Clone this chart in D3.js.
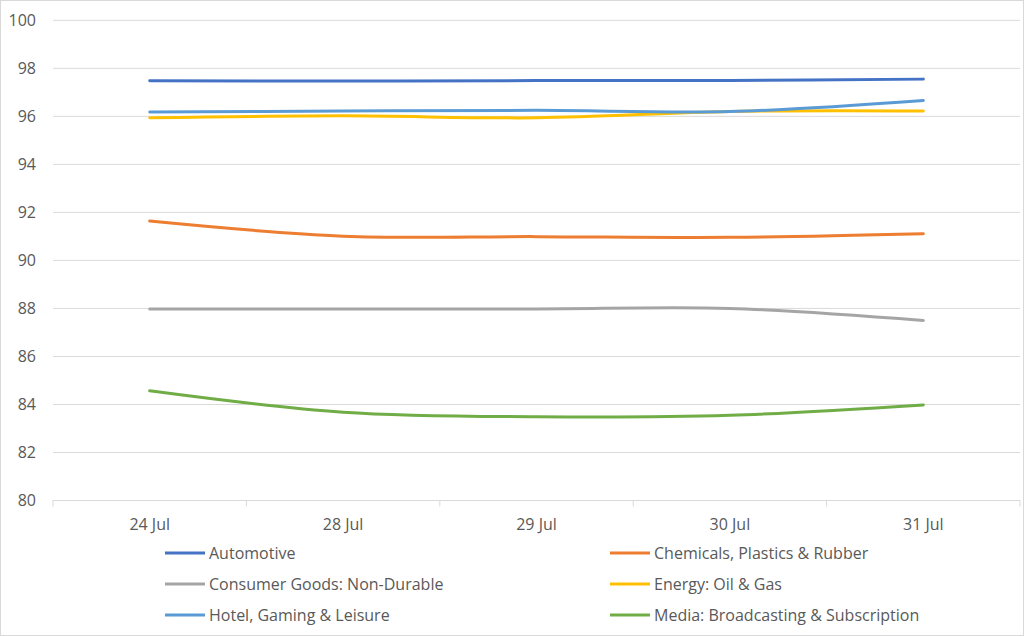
<!DOCTYPE html>
<html><head><meta charset="utf-8">
<script src="https://cdn.jsdelivr.net/npm/d3@7"></script>
<style>body{margin:0;background:#fff}svg{display:block}text{font-family:"Open Sans","Liberation Sans",sans-serif;fill:#595959}</style>
</head><body><svg id="c" width="1024" height="636"></svg>
<script>
const categories = ["24 Jul","28 Jul","29 Jul","30 Jul","31 Jul"];
const seriesNames = ["Automotive","Chemicals, Plastics & Rubber","Consumer Goods: Non-Durable","Energy: Oil & Gas","Hotel, Gaming & Leisure","Media: Broadcasting & Subscription"];
const automotive = [97.48,97.47,97.49,97.49,97.55];
const chemicals = [91.64,91.01,90.99,90.96,91.11];
const consumer = [87.98,87.98,87.98,88.0,87.5];
const energy = [95.94,96.02,95.94,96.2,96.22];
const hotel = [96.18,96.22,96.25,96.2,96.66];
const media = [84.57,83.68,83.49,83.55,83.98];
const yTicks = [80,82,84,86,88,90,92,94,96,98,100];
const colors = ["#4472C4","#ED7D31","#A5A5A5","#FFC000","#5B9BD5","#70AD47"];
const values = [automotive,chemicals,consumer,energy,hotel,media];

const svg = d3.select("#c");
svg.append("rect").attr("x",0.5).attr("y",0.5).attr("width",1023).attr("height",635).attr("fill","#fff").attr("stroke","#d9d9d9");
const L=53,R=1020,T=20.3,B=500.5;
const x = d3.scaleBand().domain(categories).range([L,R]);
const y = d3.scaleLinear().domain([80,100]).range([B,T]);
const FS = 16;

svg.append("g").selectAll("line").data(yTicks).join("line")
  .attr("x1",L).attr("x2",R).attr("y1",d=>y(d)).attr("y2",d=>y(d))
  .attr("stroke","#d9d9d9").attr("stroke-width",1);
svg.append("g").selectAll("text").data(yTicks).join("text")
  .attr("x",36).attr("y",d=>y(d)).attr("dy","0.35em").attr("text-anchor","end")
  .attr("font-size",FS).text(d=>d);
const xa = svg.append("g").attr("transform",`translate(0,${B})`);
xa.append("line").attr("x1",L).attr("x2",R).attr("stroke","#d9d9d9");
const bounds = categories.map(c=>x(c)).concat([R]);
xa.selectAll("line.t").data(bounds).join("line").attr("class","t")
  .attr("x1",d=>d).attr("x2",d=>d).attr("y1",0).attr("y2",6).attr("stroke","#d9d9d9");
xa.selectAll("text").data(categories).join("text")
  .attr("x",d=>x(d)+x.bandwidth()/2).attr("y",24).attr("dy","0.35em")
  .attr("text-anchor","middle").attr("font-size",FS).text(d=>d);

const line = d3.line().x((d,i)=>x(categories[i])+x.bandwidth()/2).y(d=>y(d)).curve(d3.curveCatmullRom.alpha(0.5));
svg.append("g").selectAll("path").data(values).join("path")
  .attr("d",d=>line(d)).attr("fill","none").attr("stroke",(d,i)=>colors[i])
  .attr("stroke-width",3).attr("stroke-linecap","round");

const lg = svg.append("g");
seriesNames.forEach((n,i)=>{
  const col=i%2, row=Math.floor(i/2);
  const lx = col===0?165:610, ly = 553+row*31;
  lg.append("line").attr("x1",lx).attr("x2",lx+40).attr("y1",ly).attr("y2",ly).attr("stroke",colors[i]).attr("stroke-width",3);
  lg.append("text").attr("x",lx+44).attr("y",ly).attr("dy","0.35em").attr("font-size",FS).text(n);
});
</script></body></html>
